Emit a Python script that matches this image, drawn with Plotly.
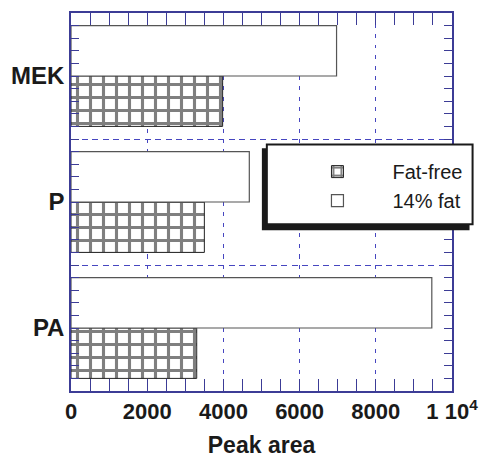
import plotly.graph_objects as go

# ---- data ----
categories = ["PA", "P", "MEK"]          # bottom to top
fat_free = [3300, 3500, 3980]
fat_14 = [9470, 4680, 6970]
series_names = ["Fat-free", "14% fat"]
x_tickvals = [0, 2000, 4000, 6000, 8000, 10000]
x_ticktext = ["0", "2000", "4000", "6000", "8000", "1 10<sup>4</sup>"]
x_title = "Peak area"

ypos = list(range(len(categories)))
boundaries = [i + 0.5 for i in range(len(categories) - 1)]

AX = "#3c3c96"
GRID = "#4646c0"
FONT = "Liberation Sans, Arial, sans-serif"
TXT = "#1a1a1a"

fig = go.Figure()
fig.add_trace(go.Bar(
    y=ypos, x=fat_free, orientation="h", name=series_names[0],
    marker=dict(color="white", line=dict(color="#222222", width=1),
                pattern=dict(shape="+", fgcolor="#000000", bgcolor="white",
                             size=13, solidity=0.42)),
))
fig.add_trace(go.Bar(
    y=ypos, x=fat_14, orientation="h", name=series_names[1],
    marker=dict(color="white", line=dict(color="#555555", width=1.2)),
))
# helper trace so the overlaid grid axis is drawn
fig.add_trace(go.Scatter(x=[None], y=[None], yaxis="y2", showlegend=False,
                         hoverinfo="skip", mode="markers"))

fig.update_layout(
    width=489, height=465,
    margin=dict(l=71, r=29, t=11, b=66),
    paper_bgcolor="white", plot_bgcolor="white",
    barmode="group", bargap=0.2, bargroupgap=0,
    font=dict(family=FONT, color=TXT),
    showlegend=True,
    legend=dict(
        x=0.555, y=0.632, xanchor="left", yanchor="top",
        bgcolor="rgba(0,0,0,0)", borderwidth=0,
        itemwidth=100, traceorder="normal",
        font=dict(family=FONT, size=20, color=TXT),
    ),
    xaxis=dict(
        range=[0, 10000], tickvals=x_tickvals, ticktext=x_ticktext,
        ticks="inside", ticklen=12, tickcolor=AX, tickwidth=1,
        showline=True, linecolor=AX, linewidth=1.5, mirror="allticks",
        showgrid=True, gridcolor=GRID, griddash="4px,6.5px", gridwidth=1,
        zeroline=False,
        minor=dict(dtick=500, tick0=0, ticks="inside", ticklen=8,
                   tickcolor=AX, showgrid=False),
        tickfont=dict(family=FONT, size=22, color=TXT, weight="bold"),
        title=dict(text="<b>" + x_title + "</b>", standoff=14,
                   font=dict(family=FONT, size=23, color=TXT)),
    ),
    yaxis=dict(
        range=[-0.5, len(categories) - 0.5], tickvals=ypos, ticktext=categories,
        ticks="inside", ticklen=8, tickcolor=AX,
        showline=True, linecolor=AX, linewidth=1.5, mirror="allticks",
        showgrid=False, zeroline=False,
        minor=dict(dtick=0.1, tick0=-0.5, ticks="inside", ticklen=8,
                   tickcolor=AX, showgrid=False),
        tickfont=dict(family=FONT, size=24, color=TXT, weight="bold"),
    ),
    yaxis2=dict(
        overlaying="y", anchor="x", side="left",
        range=[-0.5, len(categories) - 0.5], tickvals=boundaries,
        showticklabels=False, ticks="", showline=False, zeroline=False,
        showgrid=True, gridcolor=GRID, griddash="6px,4.5px", gridwidth=1,
    ),
)

# legend box with drop shadow (paper coordinates, decoration only)
fig.add_shape(type="rect", xref="paper", yref="paper",
              x0=0.501, x1=1.046, y0=0.425, y1=0.642,
              fillcolor=TXT, line=dict(width=0), layer="above")
fig.add_shape(type="rect", xref="paper", yref="paper",
              x0=0.514, x1=1.054, y0=0.441, y1=0.652,
              fillcolor="white", line=dict(color=TXT, width=2), layer="above")

fig.write_html("out.html")
